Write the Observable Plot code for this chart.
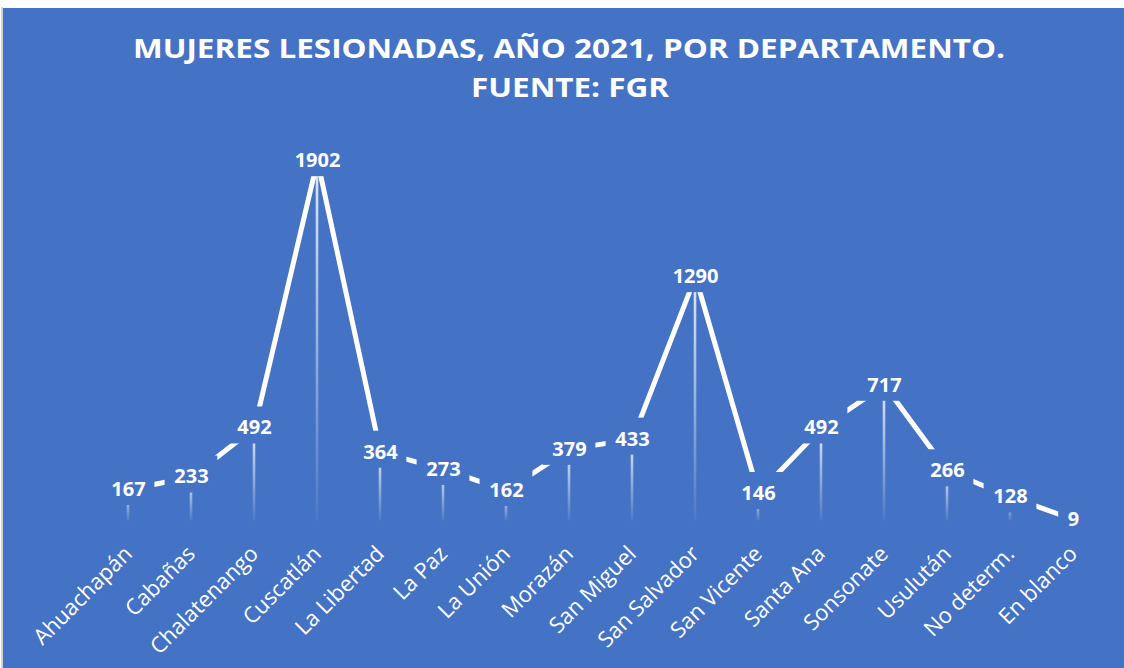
<!DOCTYPE html>
<html><head><meta charset="utf-8">
<script src="https://cdn.jsdelivr.net/npm/d3@7"></script>
<script src="https://cdn.jsdelivr.net/npm/@observablehq/plot@0.6"></script>
<style>
html,body{margin:0;padding:0;background:#fff;}
#edge{position:absolute;left:1px;top:7px;width:2px;height:661px;background:#d4d4d4;}
#frame{position:absolute;left:3px;top:8px;width:1121px;height:660px;background:#4472C4;overflow:hidden;}
#title{display:block;}
#chart svg{display:block;}
</style></head><body>
<div id="edge"></div>
<div id="frame"><svg id="title" width="1121" height="110"></svg><div id="chart"></div></div>
<script>
const departamentos = ["Ahuachapán","Cabañas","Chalatenango","Cuscatlán","La Libertad","La Paz","La Unión","Morazán","San Miguel","San Salvador","San Vicente","Santa Ana","Sonsonate","Usulután","No determ.","En blanco"];
const valores = [167,233,492,1902,364,273,162,379,433,1290,146,492,717,266,128,9];
const titulo = ["MUJERES LESIONADAS, AÑO 2021, POR DEPARTAMENTO.", "FUENTE: FGR"];

const bg = "#4472C4";
const data = departamentos.map((d, i) => ({dept: d, v: valores[i]}));

// Title
const tsvg = d3.select("#title");
const tl = [[titulo[0], 566, 50, 872], [titulo[1], 567, 89, 198]];
tl.forEach(([t, x, y, len]) => {
  tsvg.append("text").attr("x", x).attr("y", y).attr("text-anchor", "middle")
    .attr("fill", "white").attr("font-family", "'Open Sans', sans-serif")
    .attr("font-weight", "bold").attr("font-size", 27)
    .attr("textLength", len).attr("lengthAdjust", "spacingAndGlyphs").text(t);
});

const knock = [1, 2, 3, 4].map(n => Plot.rect(data.filter(d => String(d.v).length === n), {
  x1: "dept", x2: "dept", y1: "v", y2: "v", fill: bg,
  insetLeft: -(5.8 * n + 9), insetRight: -(5.8 * n + 9), insetTop: -21, insetBottom: -16
}));

const chart = Plot.plot({
  width: 1121,
  height: 550,
  marginLeft: 88.5,
  marginRight: 14.9,
  marginTop: 23.6,
  marginBottom: 147.3,
  style: {background: "transparent", color: "white", fontFamily: "'Open Sans', sans-serif", overflow: "visible"},
  x: {type: "point", domain: departamentos, padding: 0.5, axis: null},
  y: {domain: [0, 2000], axis: null},
  marks: [
    Plot.rect(data, {x1: "dept", x2: "dept", y1: 0, y2: "v", insetLeft: -1.3, insetRight: -1.3, fill: "url(#drop)"}),
    Plot.line(data, {x: "dept", y: "v", stroke: "white", strokeWidth: 5, strokeLinejoin: "round"}),
    ...knock,
    Plot.text(data, {x: "dept", y: "v", text: d => String(d.v), fill: "white", fontWeight: "bold", fontSize: 20, lineAnchor: "middle"}),
    Plot.text(data, {x: "dept", y: 0, text: "dept", fill: "white", fontSize: 22, rotate: -45, textAnchor: "end", lineAnchor: "bottom", dx: 5, dy: 34})
  ]
});
const defs = d3.select(chart).insert("defs", ":first-child");
const g = defs.append("linearGradient").attr("id", "drop").attr("x1", 0).attr("y1", 0).attr("x2", 0).attr("y2", 1);
g.append("stop").attr("offset", "0%").attr("stop-color", "white").attr("stop-opacity", 0.85);
g.append("stop").attr("offset", "100%").attr("stop-color", "white").attr("stop-opacity", 0.05);
document.getElementById("chart").appendChild(chart);
</script>
</body></html>
